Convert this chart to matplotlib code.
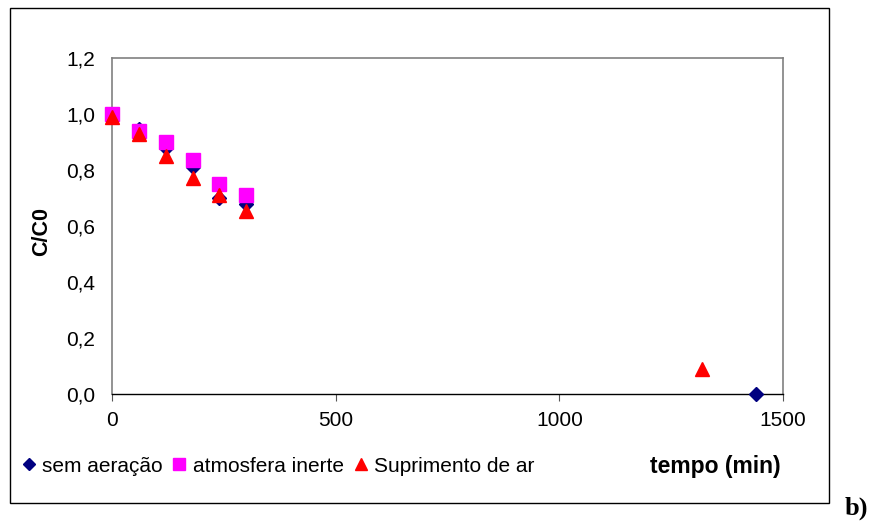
import matplotlib
matplotlib.use("Agg")
import matplotlib.pyplot as plt
from matplotlib.patches import Rectangle
from matplotlib.ticker import FuncFormatter

plt.rcParams['font.family'] = ['Liberation Sans', 'DejaVu Sans']

t_sem = [0, 60, 120, 180, 240, 300, 1440]
c_sem = [1.0, 0.945, 0.88, 0.81, 0.70, 0.68, 0.0]
t_inerte = [0, 60, 120, 180, 240, 300]
c_inerte = [1.0, 0.94, 0.90, 0.835, 0.75, 0.71]
t_ar = [0, 60, 120, 180, 240, 300, 1320]
c_ar = [0.99, 0.93, 0.85, 0.77, 0.71, 0.655, 0.09]

fig = plt.figure(figsize=(8.75, 5.22), dpi=100)
W, H = 875, 522
ax = fig.add_axes([112 / W, 128 / H, (783 - 112) / W, (394 - 58) / H])

ax.plot(t_sem, c_sem, linestyle='none', marker='D', color='#000080', markersize=7, label='sem aeração', clip_on=False, zorder=3)
ax.plot(t_inerte, c_inerte, linestyle='none', marker='s', color='#FF00FF', markersize=10, label='atmosfera inerte', clip_on=False, zorder=4)
ax.plot(t_ar, c_ar, linestyle='none', marker='^', color='#FF0000', markersize=10, label='Suprimento de ar', clip_on=False, zorder=5)

ax.set_xlim(0, 1500)
ax.set_ylim(0, 1.2)
ax.set_xticks([0, 500, 1000, 1500])
ax.set_yticks([0, 0.2, 0.4, 0.6, 0.8, 1.0, 1.2])
ax.yaxis.set_major_formatter(FuncFormatter(lambda v, p: f"{v:.1f}".replace('.', ',')))
ax.tick_params(labelsize=15, colors='black')
ax.tick_params(axis='x', direction='out', length=5, pad=7, color='#555555')
ax.tick_params(axis='y', length=0, pad=12)
for s in ['top', 'right', 'left']:
    ax.spines[s].set_color('#808080')
    ax.spines[s].set_linewidth(1.2)
ax.spines['bottom'].set_color('black')
ax.spines['bottom'].set_linewidth(1.0)

fig.text(42 / W, 1 - 232 / H, 'C/C0', fontsize=15.5, fontweight='bold', rotation=90, ha='center', va='center')
fig.text(715 / W, 1 - 467 / H, 'tempo (min)', fontsize=16.5, fontweight='bold', ha='center', va='center')
leg = fig.legend(loc='center left', bbox_to_anchor=(14 / W, 1 - 466 / H), ncol=3, frameon=False,
                 fontsize=15, handlelength=0.6, handletextpad=0.35, columnspacing=0.5, borderaxespad=0,
                 markerscale=0.85)

fig.patches.append(Rectangle((10 / W, 1 - 503 / H), (829 - 10) / W, (503 - 8) / H, transform=fig.transFigure,
                             fill=False, edgecolor='black', linewidth=1.0))
fig.text(856 / W, 1 - 508 / H, 'b)', fontsize=19, fontweight='bold', family=['Liberation Serif', 'DejaVu Serif'],
         ha='center', va='center')

fig.savefig('out.png', dpi=100)
